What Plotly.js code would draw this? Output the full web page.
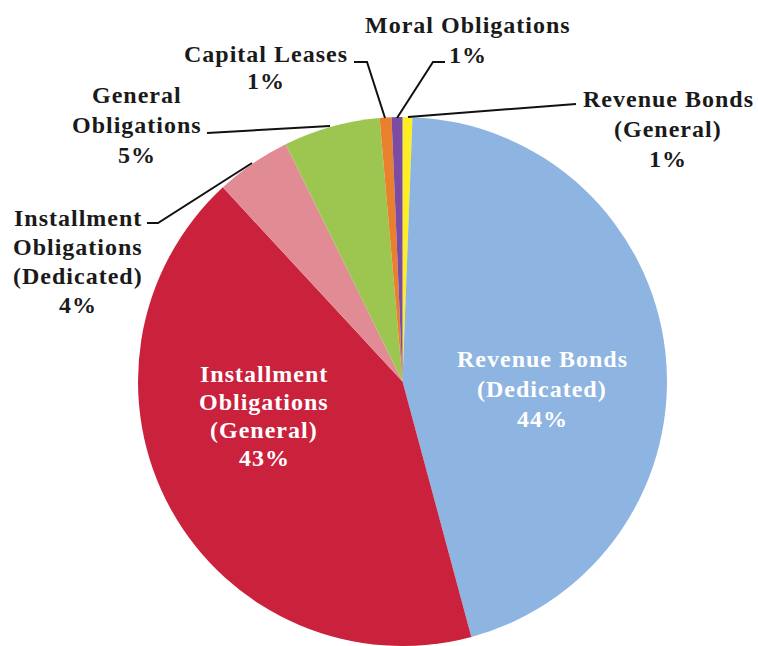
<!DOCTYPE html>
<html>
<head>
<meta charset="utf-8">
<script src="https://cdn.plot.ly/plotly-3.0.1.min.js"></script>
<style>
  html, body { margin: 0; padding: 0; background: #fff; overflow: hidden; }
  #chart { width: 758px; height: 646px; }
  .annotation-text { letter-spacing: 1px; }
</style>
</head>
<body>
<div id="chart"></div>
<script>
// ---- data (clockwise from 12 o'clock) ----
const categories = [
  "Revenue Bonds (General)",
  "Revenue Bonds (Dedicated)",
  "Installment Obligations (General)",
  "Installment Obligations (Dedicated)",
  "General Obligations",
  "Capital Leases",
  "Moral Obligations"
];
const shares = [0.6, 45.2, 42.3, 4.6, 5.9, 0.72, 0.66];
const labelLines = [
  ["Revenue Bonds", "(General)"],
  ["Revenue Bonds", "(Dedicated)"],
  ["Installment", "Obligations", "(General)"],
  ["Installment", "Obligations", "(Dedicated)"],
  ["General", "Obligations"],
  ["Capital Leases"],
  ["Moral Obligations"]
];
const pctLabels = ["1%", "44%", "43%", "4%", "5%", "1%", "1%"];
const sliceColors = ["#FFEE22", "#8EB4E1", "#CA213D", "#E18C95", "#9CC650", "#E8802E", "#7B4CA2"];

// ---- layout geometry ----
const W = 758, H = 646;
const M = {l: 138, r: 91, t: 117, b: 0};
const PW = W - M.l - M.r, PH = H - M.t - M.b;
const px = x => (x - M.l) / PW;
const py = y => (H - M.b - y) / PH;
const FS = 24;

// label block placement: center x, first baseline y, line step, text colour
const labelPos = [
  {x: 668, y: 107, step: 30, c: "#1a1a1a"},
  {x: 542, y: 367, step: 30, c: "#ffffff"},
  {x: 264, y: 382, step: 28, c: "#ffffff"},
  {x: 78,  y: 226, step: 29, c: "#1a1a1a"},
  {x: 137, y: 103, step: 30, c: "#1a1a1a"},
  {x: 266, y: 62,  step: 27, c: "#1a1a1a"},
  {x: 468, y: 33,  step: 30, c: "#1a1a1a"}
];

const annotations = [];
categories.forEach((cat, i) => {
  const lines = labelLines[i].concat([pctLabels[i]]);
  lines.forEach((ln, k) => {
    const base = labelPos[i].y + k * labelPos[i].step;
    annotations.push({
      xref: "paper", yref: "paper",
      x: px(labelPos[i].x), y: py(base - 0.32 * FS),
      xanchor: "center", yanchor: "middle",
      showarrow: false,
      text: ln,
      font: {family: "Liberation Serif, Times New Roman, serif", size: FS, color: labelPos[i].c, weight: "bold"}
    });
  });
});

// leader lines (pixel polylines)
const leaders = [
  [[576, 104], [408, 117]],
  [[147, 223], [158, 223], [252, 163]],
  [[207, 133], [330, 126]],
  [[354, 62], [367, 62], [385, 118]],
  [[445, 62], [433, 62], [397, 118]]
];
const shapes = leaders.map(pts => ({
  type: "path", xref: "paper", yref: "paper",
  path: pts.map((p, k) => (k ? "L" : "M") + px(p[0]) + "," + py(p[1])).join(" "),
  line: {color: "#111111", width: 2}
}));

const trace = {
  type: "pie",
  labels: categories,
  values: shares,
  sort: false,
  direction: "clockwise",
  rotation: 0,
  textinfo: "none",
  hoverinfo: "label+percent",
  marker: {colors: sliceColors, line: {color: "#ffffff", width: 0}},
  domain: {x: [0, 1], y: [0, 1]}
};

Plotly.newPlot("chart", [trace], {
  width: W, height: H,
  margin: M,
  paper_bgcolor: "#ffffff",
  showlegend: false,
  annotations: annotations,
  shapes: shapes
}, {displayModeBar: false, staticPlot: true});
</script>
</body>
</html>
